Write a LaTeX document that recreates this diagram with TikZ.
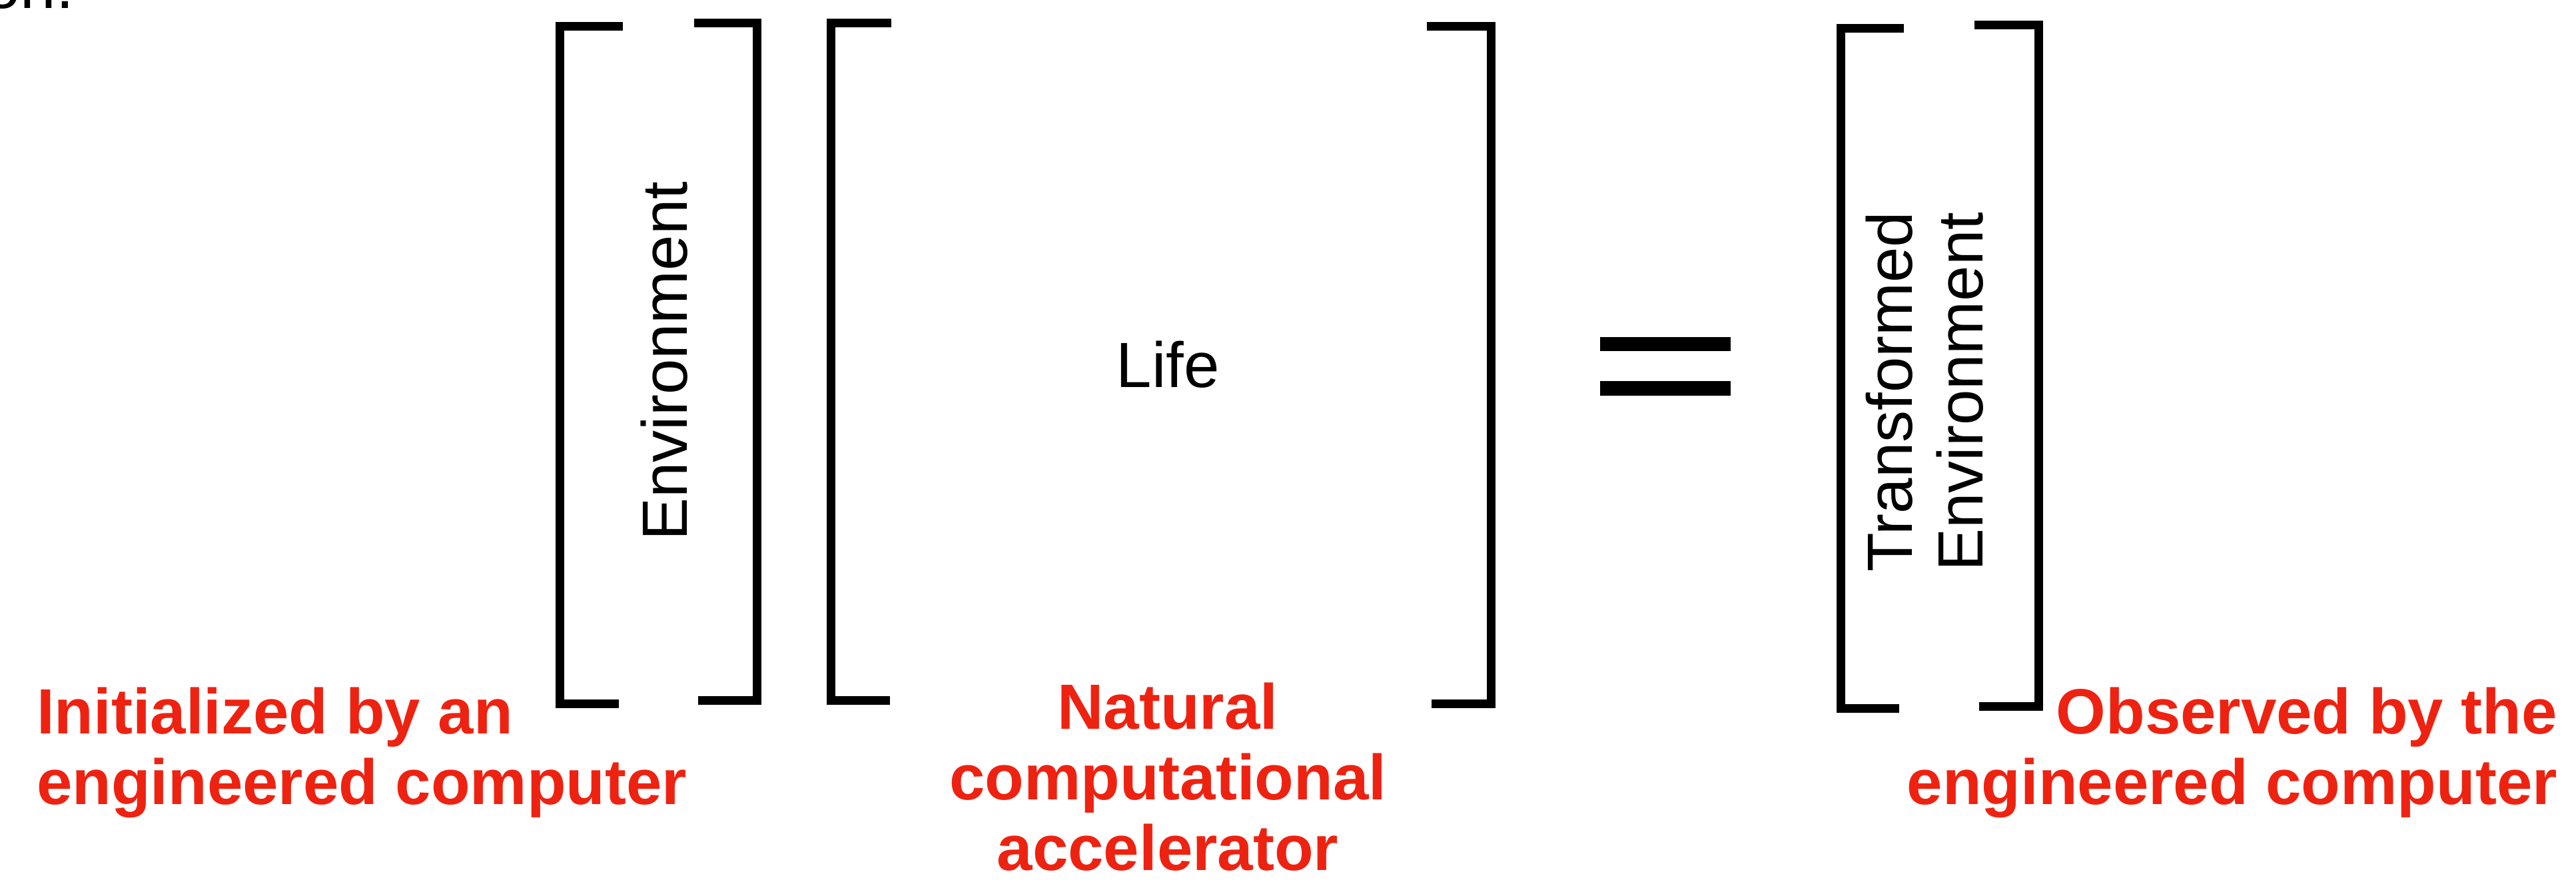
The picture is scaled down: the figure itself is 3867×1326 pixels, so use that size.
\documentclass[tikz,border=0pt]{standalone}
\usepackage{fontspec}
\setmainfont{Liberation Sans}
\definecolor{labelred}{RGB}{238,34,17}
\begin{document}
\begin{tikzpicture}[x=0.2pt,y=-0.2pt,
  bracket/.style={draw=black,line width=2.6pt,miter limit=10},
  eqbar/.style={fill=black,draw=none},
  bodytext/.style={inner sep=0pt,font=\fontsize{19.2}{21.2}\selectfont},
  redlabel/.style={inner sep=0pt,text=labelred,font=\fontsize{19.2}{21.2}\selectfont\bfseries}]
\useasboundingbox (0,0) rectangle (3867,1326);
% cut-off text at top left
\node[bodytext,anchor=base east] (frag) at (112,12) {ion.};
% bracket A (Environment)
\draw[bracket] (935,39) -- (840,39) -- (840,1056) -- (929,1056);
\draw[bracket] (1042,34) -- (1136.5,34) -- (1136.5,1051.5) -- (1048,1051.5);
% bracket B (Life)
\draw[bracket] (1338,34) -- (1247.5,34) -- (1247.5,1051.5) -- (1336,1051.5);
\draw[bracket] (2142,39) -- (2238,39) -- (2238,1056) -- (2149,1056);
% bracket C (Transformed Environment)
\draw[bracket] (2858,42) -- (2763,42) -- (2763,1063) -- (2851,1063);
\draw[bracket] (2964,37) -- (3060,37) -- (3060,1060) -- (2971,1060);
% equals sign
\fill[eqbar] (2402,506) rectangle (2598,527);
\fill[eqbar] (2402,572) rectangle (2598,594);
% texts inside brackets
\node[bodytext,rotate=90] (env) at (997,542) {Environment};
\node[bodytext] (life) at (1753,547) {Life};
\node[bodytext,rotate=90,align=center] (tenv) at (2889,588) {Transformed\\Environment};
% red labels
\node[redlabel,anchor=north west,align=left] (init) at (54,1031) {Initialized by an\\engineered computer};
\node[redlabel,anchor=north,align=center] (nat) at (1753,1024) {Natural\\computational\\accelerator};
\node[redlabel,anchor=north east,align=right] (obs) at (3840,1031) {Observed by the\\engineered computer};
\end{tikzpicture}
\end{document}
